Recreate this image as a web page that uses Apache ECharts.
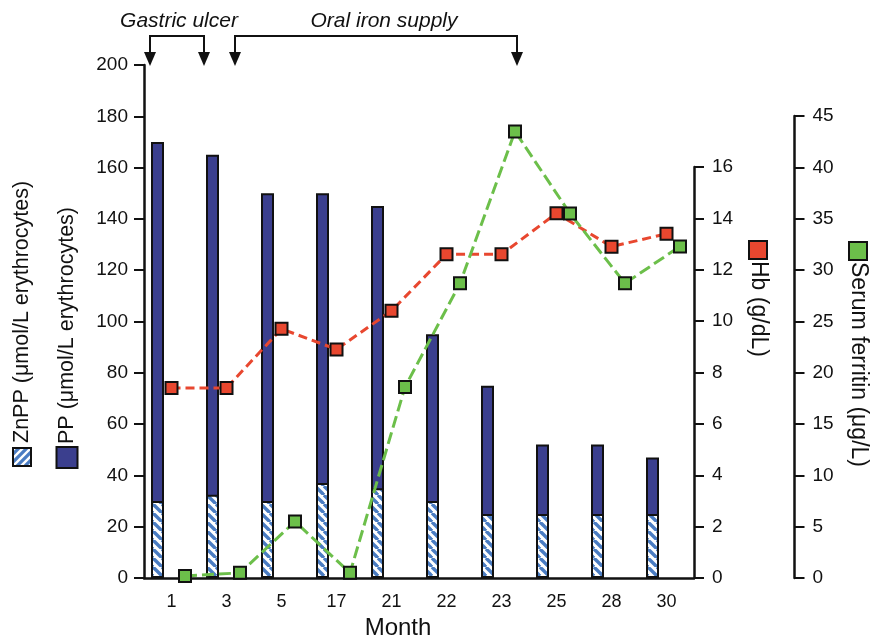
<!DOCTYPE html>
<html>
<head>
<meta charset="utf-8">
<script src="https://cdn.jsdelivr.net/npm/echarts@6/dist/echarts.min.js"></script>
<style>
  html, body { margin: 0; padding: 0; background: #fff; }
  #main { width: 870px; height: 637px; }
</style>
</head>
<body>
<div id="main"></div>
<script>
// data
const months = ['1', '3', '5', '17', '21', '22', '23', '25', '28', '30']
const ppValues = [170, 165, 150, 150, 145, 95, 75, 52, 52, 47] // PP, umol/L erythrocytes
const znppValues = [30, 32.5, 30, 37, 35, 30, 25, 25, 25, 25] // ZnPP, umol/L erythrocytes
const hbValues = [7.4, 7.4, 9.7, 8.9, 10.4, 12.6, 12.6, 14.2, 12.9, 13.4] // g/dL
const ferritinValues = [0.2, 0.5, 5.5, 0.5, 18.6, 28.7, 43.5, 35.5, 28.7, 32.3] // ug/L

const INK = '#111'
const NAVY = '#3b3f8e'
const STRIPE = '#4a7cc2'
const RED = '#e8472f'
const GREEN = '#6cbf4a'
const FONT = '"Liberation Sans", Arial, sans-serif'

// diagonal hatch used for ZnPP
const makeHatch = (size, step, lw, border) => {
  const c = document.createElement('canvas')
  c.width = size
  c.height = size
  const g = c.getContext('2d')
  g.fillStyle = '#fff'
  g.fillRect(0, 0, size, size)
  g.strokeStyle = STRIPE
  g.lineWidth = lw
  for (let k = -size; k <= size; k += step) {
    g.beginPath()
    g.moveTo(k, 0)
    g.lineTo(k + size, size)
    g.stroke()
  }
  if (border) {
    g.strokeStyle = INK
    g.lineWidth = border
    g.strokeRect(border / 2, border / 2, size - border, size - border)
  }
  return c
}
const barHatch = makeHatch(9, 9, 3.4)
const keyHatch = makeHatch(20, 8, 3.2, 2)

const chart = echarts.init(document.getElementById('main'), null, { renderer: 'canvas' })

const gridBase = { bottom: 59, outerBoundsMode: 'none', containLabel: false }
const tickLabel = { color: INK, fontSize: 19, fontFamily: FONT }
const hiddenX = (i) => ({ gridIndex: i, type: 'category', data: months, show: false })

const keySquare = (bg, size) => ({ width: size, height: size, backgroundColor: bg, borderColor: INK, borderWidth: 2 })

const arrowHead = (x) => ({
  type: 'polygon',
  shape: { points: [[x - 6, 52], [x + 6, 52], [x, 66]] },
  style: { fill: INK }
})
const bracket = (x1, x2) => ([
  { type: 'polyline', shape: { points: [[x1, 53], [x1, 36], [x2, 36], [x2, 53]] }, style: { stroke: INK, lineWidth: 2, fill: null } },
  arrowHead(x1),
  arrowHead(x2)
])

const option = {
  animation: false,
  backgroundColor: '#fff',
  grid: [
    { ...gridBase, left: 144, right: 176, top: 65 }, // axes frame
    { ...gridBase, left: 130, right: 190, top: 65 }, // bars, sit left of centre
    { ...gridBase, left: 144, right: 176, top: 167 }, // Hb
    { ...gridBase, left: 157.5, right: 162.5, top: 116 } // ferritin, sits right of centre
  ],
  xAxis: [
    {
      gridIndex: 0,
      type: 'category',
      data: months,
      axisLine: { lineStyle: { color: INK, width: 2.5 } },
      axisTick: { length: 8, lineStyle: { color: INK, width: 2 } },
      axisLabel: { ...tickLabel, fontSize: 18, margin: 15 },
      name: 'Month',
      nameLocation: 'middle',
      nameGap: 38,
      nameTextStyle: { color: INK, fontSize: 24, fontFamily: FONT, padding: [0, 42, 0, 0] }
    },
    hiddenX(1),
    hiddenX(2),
    hiddenX(3)
  ],
  yAxis: [
    {
      gridIndex: 0,
      type: 'value',
      min: 0,
      max: 200,
      interval: 20,
      splitLine: { show: false },
      axisLine: { show: true, lineStyle: { color: INK, width: 2.5 } },
      axisTick: { show: true, length: 10, lineStyle: { color: INK, width: 2 } },
      axisLabel: { ...tickLabel, margin: 16 }
    },
    { gridIndex: 1, type: 'value', min: 0, max: 200, show: false },
    {
      gridIndex: 2,
      type: 'value',
      position: 'right',
      min: 0,
      max: 16,
      interval: 2,
      splitLine: { show: false },
      axisLine: { show: true, lineStyle: { color: INK, width: 2.5 } },
      axisTick: { show: true, length: 10, lineStyle: { color: INK, width: 2 } },
      axisLabel: { ...tickLabel, margin: 18 }
    },
    {
      gridIndex: 3,
      type: 'value',
      position: 'right',
      offset: 87,
      min: 0,
      max: 45,
      interval: 5,
      splitLine: { show: false },
      axisLine: { show: true, lineStyle: { color: INK, width: 2.5 } },
      axisTick: { show: true, length: 10, lineStyle: { color: INK, width: 2 } },
      axisLabel: { ...tickLabel, margin: 18 }
    }
  ],
  series: [
    {
      name: 'PP',
      type: 'bar',
      xAxisIndex: 1,
      yAxisIndex: 1,
      barWidth: 13,
      z: 2,
      itemStyle: { color: NAVY, borderColor: INK, borderWidth: 2 },
      data: ppValues
    },
    {
      name: 'ZnPP',
      type: 'bar',
      xAxisIndex: 1,
      yAxisIndex: 1,
      barWidth: 13,
      barGap: '-100%',
      z: 3,
      itemStyle: { color: { image: barHatch, repeat: 'repeat' }, borderColor: INK, borderWidth: 2 },
      data: znppValues
    },
    {
      name: 'Hb',
      type: 'line',
      xAxisIndex: 2,
      yAxisIndex: 2,
      z: 4,
      symbol: 'rect',
      symbolSize: 12,
      itemStyle: { color: RED, borderColor: INK, borderWidth: 2 },
      lineStyle: { color: RED, width: 3, type: [9, 5] },
      data: hbValues
    },
    {
      name: 'Serum ferritin',
      type: 'line',
      xAxisIndex: 3,
      yAxisIndex: 3,
      z: 5,
      symbol: 'rect',
      symbolSize: 12,
      itemStyle: { color: GREEN, borderColor: INK, borderWidth: 2 },
      lineStyle: { color: GREEN, width: 3, type: [12, 5] },
      data: ferritinValues
    }
  ],
  graphic: [
    // axis titles with their keys
    {
      type: 'text', x: 22, y: 467, rotation: Math.PI / 2,
      style: {
        text: '{k|}{g|}{t|ZnPP (μmol/L erythrocytes)}',
        align: 'left', verticalAlign: 'middle',
        rich: { k: { width: 20, height: 20, backgroundColor: { image: keyHatch } }, g: { width: 4 }, t: { fontSize: 21.5, fontFamily: FONT, fill: INK } }
      }
    },
    {
      type: 'text', x: 67, y: 467, rotation: Math.PI / 2,
      style: {
        text: '{k|}{g|}{t|PP (μmol/L erythrocytes)}',
        align: 'left', verticalAlign: 'middle',
        rich: { k: keySquare(NAVY, 19), g: { width: 4 }, t: { fontSize: 21.5, fontFamily: FONT, fill: INK } }
      }
    },
    {
      type: 'text', x: 758, y: 242, rotation: -Math.PI / 2,
      style: {
        text: '{k|}{g|}{t|Hb (g/dL)}',
        align: 'left', verticalAlign: 'middle',
        rich: { k: keySquare(RED, 16), g: { width: 3 }, t: { fontSize: 23, fontFamily: FONT, fill: INK } }
      }
    },
    {
      type: 'text', x: 858, y: 243, rotation: -Math.PI / 2,
      style: {
        text: '{k|}{g|}{t|Serum ferritin (μg/L)}',
        align: 'left', verticalAlign: 'middle',
        rich: { k: keySquare(GREEN, 16), g: { width: 3 }, t: { fontSize: 23, fontFamily: FONT, fill: INK } }
      }
    },
    // treatment periods
    {
      type: 'text', x: 179, y: 21,
      style: { text: 'Gastric ulcer', fontSize: 21, fontStyle: 'italic', fontFamily: FONT, fill: INK, align: 'center', verticalAlign: 'middle' }
    },
    {
      type: 'text', x: 384, y: 21,
      style: { text: 'Oral iron supply', fontSize: 21, fontStyle: 'italic', fontFamily: FONT, fill: INK, align: 'center', verticalAlign: 'middle' }
    },
    ...bracket(150, 204),
    ...bracket(235, 517)
  ]
}

chart.setOption(option)
</script>
</body>
</html>
